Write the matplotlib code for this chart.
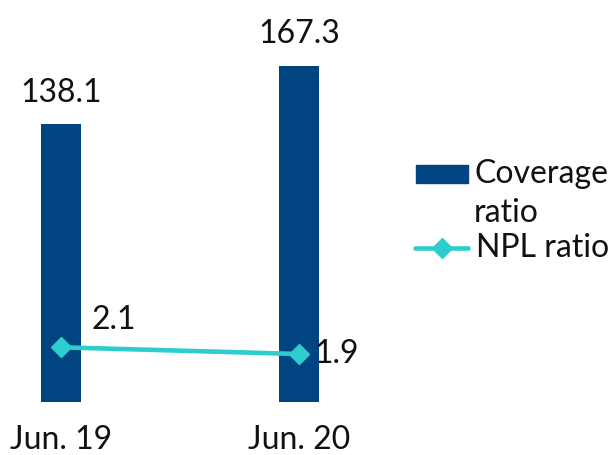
import matplotlib.pyplot as plt
from matplotlib.patches import Rectangle
from matplotlib.lines import Line2D
import numpy as np

periods = ["Jun. 19", "Jun. 20"]
coverage = [138.1, 167.3]
npl = [2.1, 1.9]

navy = "#004481"
aqua = "#2DCCCD"
plt.rcParams['font.family'] = ['Lato', 'DejaVu Sans']
fs = 23

W, H = 614, 455
fig = plt.figure(figsize=(W / 100, H / 100), dpi=100)

# axes placed so bars sit where the reference has them (pixels)
left_px, right_px, bottom_px, top_px = 1.5, 358.5, 401.7, 0
ax = fig.add_axes([left_px / W, 1 - bottom_px / H,
                   (right_px - left_px) / W, (bottom_px - top_px) / H])
x = np.arange(len(periods))
ax.bar(x, coverage, width=0.168, color=navy)
ax.set_xlim(-0.25, 1.25)
ax.set_ylim(0, 200)
for xi, v in zip(x, coverage):
    ax.annotate(f"{v:.1f}", (xi, v), xytext=(0, 12), textcoords="offset points",
                ha="center", va="bottom", fontsize=fs, color="#111111")

ax.set_xticks(x)
ax.set_xticklabels(periods, fontsize=fs, color="#111111")
ax.tick_params(axis="x", length=0, pad=17)
ax.set_yticks([])
for s in ax.spines.values():
    s.set_visible(False)

ax2 = ax.twinx()
ax2.plot(x, npl, color=aqua, lw=3.3, marker="D", markersize=10,
         solid_capstyle="round")
ax2.set_ylim(0.476, 12.47)
ax2.set_yticks([])
for s in ax2.spines.values():
    s.set_visible(False)
ax2.annotate(f"{npl[0]:.1f}", (x[0], npl[0]), xytext=(22, 13),
             textcoords="offset points", ha="left", va="baseline",
             fontsize=fs, color="#111111")
ax2.annotate(f"{npl[1]:.1f}", (x[1], npl[1]), xytext=(11, 0),
             textcoords="offset points", ha="left", va="center",
             fontsize=fs, color="#111111")

# legend drawn by hand to keep the first-line alignment of the reference
def fx(px):
    return px / W

def fy(py):
    return 1 - py / H

fig.patches.append(Rectangle((fx(416), fy(183)), fx(52), 18 / H,
                             transform=fig.transFigure, color=navy))
fig.text(fx(474), fy(183), "Coverage", fontsize=fs, va="baseline",
         color="#111111")
fig.text(fx(474), fy(222), "ratio", fontsize=fs, va="baseline",
         color="#111111")
fig.lines.append(Line2D([fx(415), fx(468)], [fy(248.5), fy(248.5)],
                        transform=fig.transFigure, color=aqua, lw=3.3,
                        solid_capstyle="round"))
fig.lines.append(Line2D([fx(441.5)], [fy(248.5)], transform=fig.transFigure,
                        color=aqua, marker="D", markersize=10))
fig.text(fx(476), fy(257), "NPL ratio", fontsize=fs, va="baseline",
         color="#111111")

fig.savefig("out.png", dpi=100)
